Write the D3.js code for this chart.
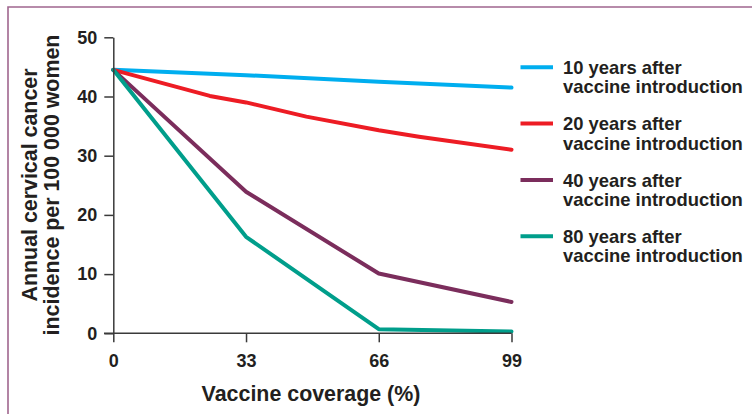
<!DOCTYPE html>
<html>
<head>
<meta charset="utf-8">
<script src="https://cdn.jsdelivr.net/npm/d3@7"></script>
<style>
  html, body { margin: 0; padding: 0; background: #fff; }
  svg { display: block; }
  text { font-family: "Liberation Sans", Arial, Helvetica, sans-serif; font-weight: bold; fill: #231f20; }
</style>
</head>
<body>
<svg id="chart" width="752" height="414"></svg>
<script>
// ---- data ----
const xTicks = [0, 33, 66, 99];
const yTicks = [0, 10, 20, 30, 40, 50];
const seriesNames = ["10 years after", "20 years after", "40 years after", "80 years after"];
const legendSub = "vaccine introduction";
const colors = ["#00aeef", "#ed1c24", "#7b2d5c", "#009e8b"];
const s10x = [0, 33, 66, 99];
const s10y = [44.5, 43.6, 42.5, 41.5];
const s20x = [0, 24, 33, 48, 66, 76, 99];
const s20y = [44.5, 40.1, 39.0, 36.6, 34.3, 33.2, 31.0];
const s40x = [0, 33, 66, 99];
const s40y = [44.5, 23.9, 10.1, 5.3];
const s80x = [0, 33, 66, 99];
const s80y = [44.5, 16.3, 0.7, 0.3];
const xTitle = "Vaccine coverage (%)";
const yTitle = ["Annual cervical cancer", "incidence per 100 000 women"];

const series = [[s10x, s10y], [s20x, s20y], [s40x, s40y], [s80x, s80y]]
  .map(([xs, ys]) => xs.map((x, i) => ({ x, y: ys[i] })));

const svg = d3.select("#chart");

// frame
svg.append("path")
  .attr("d", "M8,414 L8,7 L752,7")
  .attr("fill", "none")
  .attr("stroke", "#a0668e")
  .attr("stroke-width", 1.6);

const x = d3.scaleLinear().domain([0, 99]).range([113.3, 511.5]);
const y = d3.scaleLinear().domain([0, 50]).range([333.3, 37.3]);

// lines
const line = d3.line().x(d => x(d.x)).y(d => y(d.y));
svg.append("g").selectAll("path").data(series).join("path")
  .attr("d", line)
  .attr("fill", "none")
  .attr("stroke", (d, i) => colors[i])
  .attr("stroke-width", 4)
  .attr("stroke-linejoin", "round")
  .attr("stroke-linecap", "round");

// axes
const xAxis = svg.append("g")
  .attr("transform", `translate(0,${y(0)})`)
  .call(d3.axisBottom(x).tickValues(xTicks).tickSize(9).tickSizeOuter(0).tickPadding(12));
const yAxis = svg.append("g")
  .attr("transform", `translate(${x(0)},0)`)
  .call(d3.axisLeft(y).tickValues(yTicks).tickSize(9).tickSizeOuter(0).tickPadding(7));
[xAxis, yAxis].forEach(g => {
  g.select(".domain").attr("stroke", "#3a3a3a").attr("stroke-width", 1.5);
  g.selectAll(".tick line").attr("stroke", "#3a3a3a").attr("stroke-width", 1.5);
  g.selectAll(".tick text")
    .attr("font-family", "'Liberation Sans', Arial, sans-serif")
    .attr("font-weight", "bold")
    .attr("font-size", 18)
    .attr("fill", "#231f20");
});
// x-axis baseline extends left under the y "0" tick
xAxis.select(".domain").attr("d", `M104,0H${x(99)}`);

// axis titles
svg.append("text")
  .attr("x", 311).attr("y", 401)
  .attr("text-anchor", "middle")
  .attr("font-size", 21.4)
  .text(xTitle);

const yt = svg.append("text")
  .attr("transform", `translate(0,185) rotate(-90)`)
  .attr("text-anchor", "middle")
  .attr("font-size", 21.4);
yt.append("tspan").attr("x", 0).attr("y", 36.5).text(yTitle[0]);
yt.append("tspan").attr("x", 0).attr("y", 58.5).text(yTitle[1]);

// legend
const lg = svg.append("g").selectAll("g").data(seriesNames).join("g")
  .attr("transform", (d, i) => `translate(0,${67.3 + i * 56.3})`);
lg.append("line")
  .attr("x1", 520.5).attr("x2", 553)
  .attr("stroke", (d, i) => colors[i])
  .attr("stroke-width", 4);
lg.append("text").attr("x", 563).attr("y", 6.7).attr("font-size", 18.4).text(d => d);
lg.append("text").attr("x", 563).attr("y", 26).attr("font-size", 18.4).text(legendSub);
</script>
</body>
</html>
